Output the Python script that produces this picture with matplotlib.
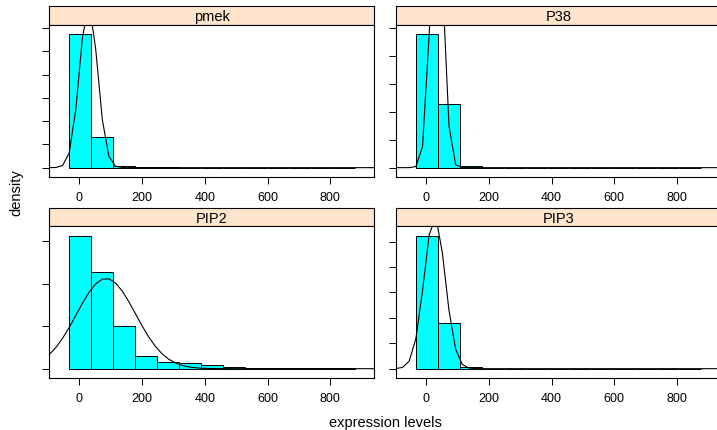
import numpy as np
import matplotlib
matplotlib.use("Agg")
import matplotlib.pyplot as plt

plt.rcParams['font.family'] = ['Liberation Sans', 'DejaVu Sans']

# histogram bins shared by all panels (width 70)
bin_edges = [-33, 37, 107, 177, 247, 317, 387, 457, 527, 597, 667, 737, 807, 877]

panel_names = ["pmek", "P38", "PIP2", "PIP3"]

# density per bin
pmek_density = [0.0115, 0.00264, 0.00012, 0.00002, 0.00003, 0.00001, 0.0,
                0.0, 0.0, 0.0, 0.0, 0.0, 0.0]
p38_density = [0.00958, 0.00458, 0.00014, 0.0, 0.0, 0.0, 0.0,
               0.0, 0.0, 0.0, 0.0, 0.0, 0.0]
pip2_density = [0.00626, 0.00456, 0.0020, 0.00058, 0.0003, 0.00025, 0.00016,
                0.0001, 0.00003, 0.00001, 0.00001, 0.00001, 0.00001]
pip3_density = [0.01048, 0.0036, 0.00016, 0.00001, 0.0, 0.0, 0.0,
                0.0, 0.0, 0.0, 0.0, 0.0, 0.0]

# fitted normal curves (mean, sd)
normal_mean = [29, 34, 85, 27]
normal_sd = [28, 20, 94, 33]

# y tick positions per panel (no labels drawn)
y_ticks = [
    [0, 0.002, 0.004, 0.006, 0.008, 0.010, 0.012],
    [0, 0.002, 0.004, 0.006, 0.008, 0.010],
    [0, 0.002, 0.004, 0.006],
    [0, 0.002, 0.004, 0.006, 0.008, 0.010],
]
x_ticks = [0, 200, 400, 600, 800]
x_limits = (-96, 939)

densities = [pmek_density, p38_density, pip2_density, pip3_density]

W, H = 717, 431
fig = plt.figure(figsize=(W / 100, H / 100), dpi=100)


def rect(x, y_top, w, h):
    return [x / W, 1 - (y_top + h) / H, w / W, h / H]


col_x = [49.3, 396.0]
panel_w = 324.7
rows = [(7.3, 18.4, 152.3), (208.5, 18.8, 151.7)]  # strip top, strip h, panel h

for i, name in enumerate(panel_names):
    r, c = divmod(i, 2)
    strip_top, strip_h, panel_h = rows[r]
    x0 = col_x[c]

    # strip
    sax = fig.add_axes(rect(x0, strip_top, panel_w, strip_h))
    sax.set_facecolor("#FFE5CC")
    sax.set_xticks([])
    sax.set_yticks([])
    for sp in sax.spines.values():
        sp.set_linewidth(0.8)
    sax.text(0.5, 0.45, name, ha="center", va="center", fontsize=10.5,
             transform=sax.transAxes)

    ax = fig.add_axes(rect(x0, strip_top + strip_h, panel_w, panel_h))
    heights = np.array(densities[i])
    lefts = np.array(bin_edges[:-1])
    widths = np.diff(bin_edges)
    ax.bar(lefts, heights, width=widths, align="edge", color="#00FFFF",
           edgecolor="black", linewidth=0.7)

    xs = np.linspace(x_limits[0], x_limits[1], 50)
    m, s = normal_mean[i], normal_sd[i]
    ys = np.exp(-0.5 * ((xs - m) / s) ** 2) / (s * np.sqrt(2 * np.pi))
    ax.plot(xs, ys, color="black", linewidth=0.8)

    ymax = heights.max()
    ax.set_ylim(-0.07 * ymax, 1.07 * ymax)
    ax.set_xlim(*x_limits)
    ax.set_yticks(y_ticks[i])
    ax.set_yticklabels([])
    ax.set_xticks(x_ticks)
    ax.set_xticklabels([str(t) for t in x_ticks], fontsize=9)
    ax.tick_params(direction="out", length=5, width=0.7, pad=5)
    for sp in ax.spines.values():
        sp.set_linewidth(0.8)

fig.text(16 / W, 1 - 193 / H, "density", rotation=90, ha="center",
         va="center", fontsize=10.5)
fig.text(385 / W, 1 - 423 / H, "expression levels", ha="center",
         va="center", fontsize=10.5)

fig.savefig("out.png", dpi=100)
